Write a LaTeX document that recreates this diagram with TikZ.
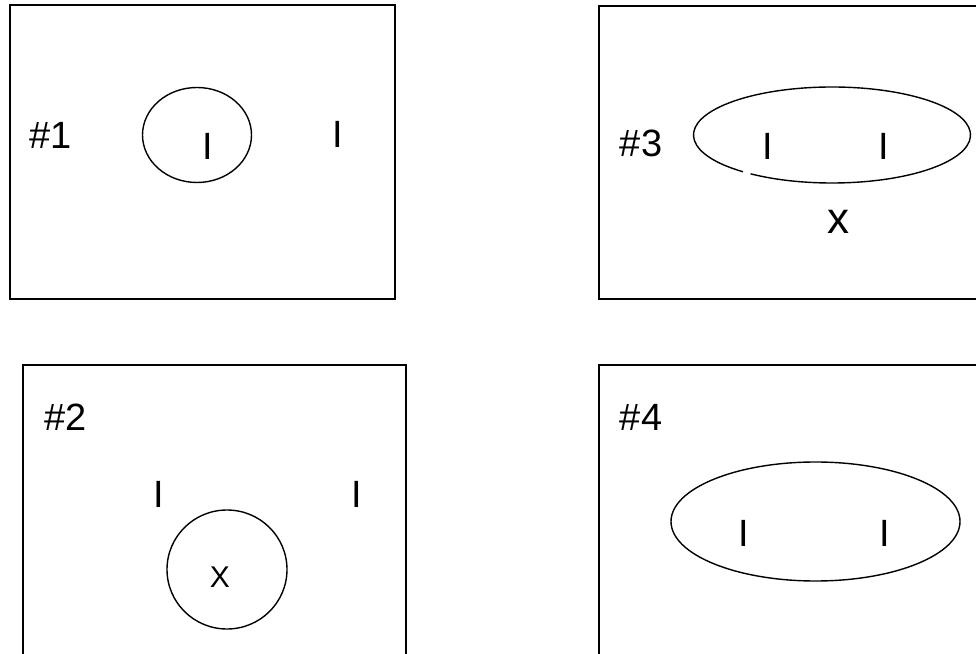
\documentclass[tikz,border=0pt]{standalone}
\usepackage{fontspec}
\setmainfont{Liberation Sans}
\usetikzlibrary{shapes.geometric,calc}
\begin{document}
\begin{tikzpicture}[x=1pt,y=1pt,
  frame/.style={draw=black,line width=1.8pt},
  ring/.style={draw=black,line width=1.4pt,ellipse,inner sep=0pt},
  lbl/.style={inner sep=0pt,font=\fontsize{38}{40}\selectfont},
  bigx/.style={inner sep=0pt,font=\fontsize{44}{46}\selectfont},
  smallx/.style={inner sep=0pt,font=\fontsize{30}{32}\selectfont}]
\useasboundingbox (0,0) rectangle (976,653);
\clip (0,0) rectangle (976,653);
\fill[white] (0,0) rectangle (976,653);
% frames
\draw[frame] (10,648) rectangle (395,354);
\draw[frame] (599,647) rectangle (990,354);
\draw[frame] (23,288) rectangle (406,-20);
\draw[frame] (599,288) rectangle (990,-20);
% panel 1
\node[lbl] (n1) at (51,518) {\#1};
\node[ring,minimum width=109pt,minimum height=95pt] (c1) at (197,518) {};
\node[lbl] (i1a) at (208,507) {I};
\node[lbl] (i1b) at (338,518.5) {I};
% panel 3
\node[lbl] (n3) at (641,510) {\#3};
\coordinate (c3) at (832,518);
\draw[black,line width=1.4pt] ($(c3)+(234:138.5 and 48)$) arc[start angle=234,end angle=590,x radius=138.5,y radius=48];
\node[lbl] (i3a) at (768,507) {I};
\node[lbl] (i3b) at (884,507) {I};
\node[bigx] (x3) at (838.5,431.5) {x};
% panel 2
\node[lbl] (n2) at (65.5,236) {\#2};
\node[lbl] (i2a) at (159,158.5) {I};
\node[lbl] (i2b) at (357,158.5) {I};
\node[ring,minimum width=120pt,minimum height=119pt] (c2) at (227,83.5) {};
\node[smallx] (x2) at (220,76) {X};
% panel 4
\node[lbl] (n4) at (641,236) {\#4};
\node[ring,minimum width=289pt,minimum height=119pt] (c4) at (815.5,131.5) {};
\node[lbl] (i4a) at (744,120) {I};
\node[lbl] (i4b) at (885,120) {I};
\end{tikzpicture}
\end{document}
